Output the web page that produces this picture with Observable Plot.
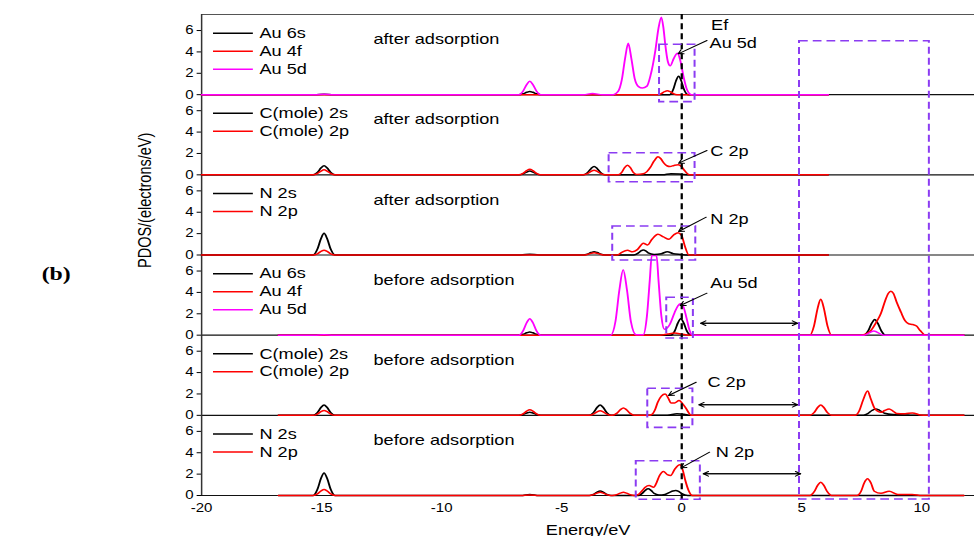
<!DOCTYPE html>
<html><head><meta charset="utf-8">
<script src="https://cdn.jsdelivr.net/npm/d3@7"></script>
<script src="https://cdn.jsdelivr.net/npm/@observablehq/plot@0.6"></script>
<style>html,body{margin:0;padding:0;background:#fff;} #chart{width:974px;height:536px;overflow:hidden;}</style>
</head><body><div id="chart"></div>
<script>
// ---------------- data ----------------
const xDomain = [-20, 12.2];
const xTicks = [-20, -15, -10, -5, 0, 5, 10];
const yTicks = [0, 2, 4, 6];
const panelSpan = 7.5;
const panelTitles = ["after adsorption", "after adsorption", "after adsorption",
                     "before adsorption", "before adsorption", "before adsorption"];
const legendLabels = [
  ["Au 6s", "Au 4f", "Au 5d"],
  ["C(mole) 2s", "C(mole) 2p"],
  ["N 2s", "N 2p"],
  ["Au 6s", "Au 4f", "Au 5d"],
  ["C(mole) 2s", "C(mole) 2p"],
  ["N 2s", "N 2p"]
];
const seriesColors = ["#000000", "#ff0000", "#ff00ff"];

// PDOS curves [energy eV, PDOS]
const p1Au6s = [[-20,0],[-15.3,0],[-14.9,0.05],[-14.5,0],[-6.78,0],[-6.61,0.08],[-6.46,0.22],[-6.33,0.3],[-6.2,0.22],[-6.05,0.08],[-5.88,0],[-0.5,0],[-0.36,0.45],[-0.24,1.29],[-0.13,1.72],[-0.02,1.29],[0.1,0.45],[0.26,0],[6.1,0]];
const p1Au4f = [[-20,0],[-1.0,0],[-0.85,0.1],[-0.72,0.28],[-0.6,0.37],[-0.48,0.28],[-0.35,0.1],[-0.2,0],[6.1,0]];
const p1Au5d = [[-20,0],[-15.3,0],[-14.9,0.05],[-14.5,0],[-6.78,0],[-6.61,0.33],[-6.46,0.94],[-6.33,1.25],[-6.2,0.94],[-6.05,0.33],[-5.88,0],[-4.1,0],[-3.72,0.1],[-3.3,0],[-2.85,0],[-2.65,0.3],[-2.5,1.35],[-2.36,3.4],[-2.23,4.8],[-2.1,3.4],[-1.96,1.5],[-1.8,0.75],[-1.64,0.62],[-1.45,0.8],[-1.3,1.8],[-1.1,4.12],[-0.97,6.2],[-0.85,7.25],[-0.76,6.2],[-0.69,4.75],[-0.58,3.1],[-0.48,2.7],[-0.33,3.4],[-0.18,3.87],[-0.05,3.1],[0.08,1.62],[0.22,0.45],[0.4,0],[6.1,0]];

const p2C2s = [[-20,0],[-15.35,0],[-15.18,0.22],[-15.03,0.63],[-14.9,0.84],[-14.77,0.63],[-14.62,0.22],[-14.45,0],[-6.78,0],[-6.61,0.09],[-6.46,0.26],[-6.33,0.35],[-6.2,0.26],[-6.05,0.09],[-5.88,0],[-4.1,0],[-3.93,0.2],[-3.78,0.58],[-3.65,0.78],[-3.52,0.58],[-3.37,0.2],[-3.2,0],[-0.8,0],[-0.45,0.1],[-0.1,0.08],[0.3,0],[6.1,0]];
const p2C2p = [[-20,0],[-15.35,0],[-15.18,0.12],[-15.03,0.35],[-14.9,0.47],[-14.77,0.35],[-14.62,0.12],[-14.45,0],[-6.78,0],[-6.61,0.14],[-6.46,0.4],[-6.33,0.53],[-6.2,0.4],[-6.05,0.14],[-5.88,0],[-4.1,0],[-3.93,0.11],[-3.78,0.33],[-3.65,0.44],[-3.52,0.33],[-3.37,0.11],[-3.2,0],[-2.64,0],[-2.5,0.23],[-2.38,0.68],[-2.26,0.9],[-2.14,0.68],[-2.02,0.23],[-1.88,0.03],[-1.6,0.1],[-1.45,0.3],[-1.31,0.69],[-1.15,1.3],[-0.99,1.69],[-0.87,1.5],[-0.76,1.15],[-0.62,0.85],[-0.49,0.78],[-0.32,0.88],[-0.15,0.94],[0.0,0.75],[0.1,0.45],[0.32,0],[6.1,0]];

const p3N2s = [[-20,0],[-15.35,0],[-15.18,0.53],[-15.03,1.52],[-14.9,2.03],[-14.77,1.52],[-14.62,0.53],[-14.45,0],[-6.7,0],[-6.33,0.08],[-5.95,0],[-4.1,0],[-3.93,0.08],[-3.78,0.23],[-3.65,0.31],[-3.52,0.23],[-3.37,0.08],[-3.2,0],[-2.0,0],[-1.8,0.2],[-1.7,0.38],[-1.6,0.47],[-1.5,0.38],[-1.4,0.2],[-1.15,0.05],[-0.85,0.12],[-0.6,0.31],[-0.35,0.12],[-0.05,0.05],[0.25,0],[6.1,0]];
const p3N2p = [[-20,0],[-15.35,0],[-15.18,0.11],[-15.03,0.33],[-14.9,0.44],[-14.77,0.33],[-14.62,0.11],[-14.45,0],[-4.1,0],[-3.93,0.05],[-3.78,0.15],[-3.65,0.2],[-3.52,0.15],[-3.37,0.05],[-3.2,0],[-2.68,0],[-2.5,0.25],[-2.26,0.44],[-2.05,0.3],[-1.85,0.5],[-1.6,1.1],[-1.42,0.94],[-1.24,1.47],[-0.99,1.94],[-0.76,1.69],[-0.53,1.47],[-0.34,1.87],[-0.15,2.09],[0.0,1.8],[0.12,0.9],[0.3,0],[6.1,0]];

const p4Au6s = [[-16.8,0],[-6.78,0],[-6.61,0.08],[-6.46,0.22],[-6.33,0.3],[-6.2,0.22],[-6.05,0.08],[-5.88,0],[-0.45,0],[-0.29,0.4],[-0.16,1.15],[-0.04,1.53],[0.08,1.15],[0.21,0.4],[0.38,0],[7.59,0],[7.76,0.38],[7.91,1.1],[8.04,1.47],[8.17,1.1],[8.32,0.38],[8.49,0],[11.75,0]];
const p4Au4f = [[-16.8,0],[-0.9,0],[-0.6,0.1],[-0.3,0.2],[0,0.1],[0.3,0],[5.34,0],[5.51,0.87],[5.66,2.51],[5.79,3.35],[5.92,2.51],[6.07,0.87],[6.24,0],[7.46,0],[7.7,0.15],[7.88,0.44],[8.1,1.2],[8.29,2.0],[8.47,3.2],[8.6,3.9],[8.71,4.12],[8.82,3.9],[8.95,3.1],[9.13,2.16],[9.3,1.35],[9.45,1.07],[9.62,1.0],[9.78,0.85],[9.93,0.44],[10.15,0],[11.75,0]];
const p4Au5d = [[-16.8,0],[-15.3,0],[-14.9,0.05],[-14.5,0],[-6.78,0],[-6.61,0.4],[-6.46,1.16],[-6.33,1.54],[-6.2,1.16],[-6.05,0.4],[-5.88,0],[-2.96,0],[-2.76,1.3],[-2.6,4.2],[-2.44,6.13],[-2.28,4.2],[-2.12,1.3],[-1.9,0.03],[-1.6,0.05],[-1.45,1.8],[-1.33,5.2],[-1.25,7.45],[-1.05,7.45],[-0.97,5.2],[-0.85,1.8],[-0.72,0.55],[-0.5,1.0],[-0.3,2.1],[-0.16,2.75],[-0.04,2.94],[0.08,2.6],[0.2,1.6],[0.32,0.5],[0.45,0],[7.6,0],[8.0,0.4],[8.4,0],[11.75,0]];

const p5C2s = [[-16.8,0],[-15.35,0],[-15.18,0.25],[-15.03,0.73],[-14.9,0.97],[-14.77,0.73],[-14.62,0.25],[-14.45,0],[-6.78,0],[-6.61,0.08],[-6.46,0.22],[-6.33,0.3],[-6.2,0.22],[-6.05,0.08],[-5.88,0],[-3.85,0],[-3.68,0.25],[-3.53,0.73],[-3.4,0.97],[-3.27,0.73],[-3.12,0.25],[-2.95,0],[-0.6,0],[-0.2,0.15],[0.1,0.1],[0.35,0],[7.57,0],[7.75,0.15],[7.92,0.45],[8.08,0.6],[8.25,0.45],[8.45,0.2],[8.8,0.07],[9.3,0.04],[9.6,0],[11.75,0]];
const p5C2p = [[-16.8,0],[-15.35,0],[-15.18,0.12],[-15.03,0.34],[-14.9,0.45],[-14.77,0.34],[-14.62,0.12],[-14.45,0],[-6.78,0],[-6.61,0.14],[-6.46,0.4],[-6.33,0.53],[-6.2,0.4],[-6.05,0.14],[-5.88,0],[-3.85,0],[-3.68,0.11],[-3.53,0.33],[-3.4,0.44],[-3.27,0.33],[-3.12,0.11],[-2.95,0],[-2.88,0],[-2.71,0.18],[-2.56,0.52],[-2.43,0.69],[-2.3,0.52],[-2.15,0.18],[-1.98,0],[-1.4,0],[-1.24,0.1],[-1.1,0.6],[-1.0,1.22],[-0.85,1.8],[-0.69,2.0],[-0.56,1.6],[-0.45,1.15],[-0.3,1.15],[-0.11,1.38],[0.03,1.1],[0.15,0.75],[0.4,0],[5.34,0],[5.51,0.25],[5.66,0.73],[5.79,0.97],[5.92,0.73],[6.07,0.25],[6.24,0],[7.22,0],[7.4,0.45],[7.55,1.4],[7.74,2.28],[7.88,1.5],[8.05,0.6],[8.3,0.28],[8.45,0.45],[8.64,0.6],[8.8,0.4],[8.95,0.18],[9.3,0.15],[9.61,0.22],[9.95,0.03],[10.2,0],[11.75,0]];

const p6N2s = [[-16.8,0],[-15.35,0],[-15.18,0.55],[-15.03,1.58],[-14.9,2.1],[-14.77,1.58],[-14.62,0.55],[-14.45,0],[-6.7,0],[-6.33,0.1],[-5.95,0],[-3.85,0],[-3.68,0.11],[-3.53,0.31],[-3.4,0.41],[-3.27,0.31],[-3.12,0.11],[-2.95,0],[-1.8,0],[-1.65,0.2],[-1.52,0.48],[-1.4,0.62],[-1.28,0.48],[-1.15,0.2],[-0.95,0.05],[-0.7,0.1],[-0.5,0.3],[-0.37,0.42],[-0.25,0.47],[-0.13,0.38],[0.0,0.18],[0.25,0],[11.75,0]];
const p6N2p = [[-16.8,0],[-15.35,0],[-15.18,0.15],[-15.03,0.42],[-14.9,0.56],[-14.77,0.42],[-14.62,0.15],[-14.45,0],[-6.7,0],[-6.33,0.05],[-5.95,0],[-3.85,0],[-3.68,0.08],[-3.53,0.22],[-3.4,0.3],[-3.27,0.22],[-3.12,0.08],[-2.95,0],[-2.88,0],[-2.71,0.08],[-2.56,0.22],[-2.43,0.3],[-2.3,0.22],[-2.15,0.08],[-1.98,0],[-1.8,0.1],[-1.65,0.45],[-1.52,0.78],[-1.36,0.94],[-1.17,0.78],[-1.05,1.2],[-0.93,1.85],[-0.76,2.25],[-0.6,1.95],[-0.46,1.87],[-0.28,2.5],[-0.08,2.87],[0.04,2.4],[0.15,1.4],[0.28,0.5],[0.45,0],[5.34,0],[5.51,0.33],[5.66,0.94],[5.79,1.25],[5.92,0.94],[6.07,0.33],[6.24,0],[7.3,0],[7.47,0.4],[7.6,1.17],[7.74,1.56],[7.88,1.17],[8.02,0.4],[8.3,0.2],[8.64,0.4],[9.0,0.1],[9.6,0.1],[10.0,0],[11.75,0]];

const curves = [
  [p1Au6s, p1Au4f, p1Au5d],
  [p2C2s, p2C2p],
  [p3N2s, p3N2p],
  [p4Au6s, p4Au4f, p4Au5d],
  [p5C2s, p5C2p],
  [p6N2s, p6N2p]
];

// dashed highlight boxes: [x1, x2, bottom panel, bottom value, top panel, top value]
const boxes = [
  [-0.92, 0.56, 0, -0.7, 0, 4.67],
  [-3.02, 0.56, 1, -0.69, 1, 2.02],
  [-2.87, 0.59, 2, -0.51, 2, 2.67],
  [-0.62, 0.49, 3, -0.31, 3, 3.5],
  [-1.41, 0.47, 4, -1.17, 4, 2.48],
  [-1.89, 0.78, 5, -0.4, 5, 3.21],
  [4.91, 10.32, 5, -0.37, 0, 5.0]
];

// callouts (energy, stacked PDOS)
const calloutText = ["Au 5d", "C 2p", "N 2p", "Au 5d", "C 2p", "N 2p"];
const calloutX = [1.16, 1.19, 1.19, 1.19, 1.07, 1.42];
const calloutY = [42.32, 32.18, 25.82, 19.81, 10.54, 4.05];
const pointerFrom = [[1.05,42.57],[1.05,32.28],[1.02,26.04],[1.05,18.93],[0.60,10.60],[1.16,4.05]];
const pointerTo   = [[-0.15,41.32],[-0.13,31.09],[-0.13,24.70],[-0.06,17.78],[-0.55,9.36],[-0.03,2.59]];
const gapArrows = [[0.79, 4.82, 16.12], [0.72, 4.82, 8.49], [0.9, 4.95, 2.03]];
const fermiLabel = {text: "Ef", x: 1.58, y: 43.97};

// ---------------- layout ----------------
const S = 1.25;              // horizontal stretch of the original figure
const W = 974 / S;
const nP = curves.length;
const offsets = d3.range(nP).map(i => (nP - 1 - i) * panelSpan);
const yMax = nP * panelSpan;
const yTickPos = offsets.flatMap(o => yTicks.map(t => o + t));
const legendRows = [5.75, 4.07, 2.38];
const FONT = "'Liberation Sans', Arial, Helvetica, sans-serif";
const purple = "#8b3cf2";

const marks = [];
marks.push(Plot.ruleY(offsets, {x1: () => xDomain[0], x2: () => xDomain[1], stroke: "#111", strokeWidth: 1.2}));
marks.push(Plot.ruleY([yMax], {x1: () => xDomain[0], x2: () => xDomain[1], stroke: "#555", strokeWidth: 1.2}));
marks.push(Plot.ruleX([xDomain[0]], {y1: () => 0, y2: () => yMax, stroke: "#333", strokeWidth: 1.2}));

for (let i = nP - 1; i >= 0; i--) {
  curves[i].forEach((pts, k) => {
    marks.push(Plot.line(pts, {x: d => d[0], y: d => d[1] + offsets[i], stroke: seriesColors[k], strokeWidth: 1.5, curve: "monotone-x"}));
  });
}

marks.push(Plot.ruleX([0], {y1: () => -0.4, y2: () => yMax, stroke: "#000", strokeWidth: 1.8, strokeDasharray: "6,4"}));

const boxData = boxes.map(([x1, x2, pb, vb, pt, vt]) => ({x1, x2, y1: offsets[pb] + vb, y2: offsets[pt] + vt}));
marks.push(Plot.rect(boxData, {x1: "x1", x2: "x2", y1: "y1", y2: "y2", fill: "none", stroke: purple, strokeWidth: 1.6, strokeDasharray: "7,4"}));

const legendData = legendLabels.flatMap((labels, i) => labels.map((t, k) => ({t, k, y: offsets[i] + legendRows[k]})));
marks.push(Plot.ruleY(legendData, {y: "y", x1: () => -19.5, x2: () => -17.84, stroke: d => seriesColors[d.k], strokeWidth: 1.5}));
marks.push(Plot.text(legendData, {x: () => -17.59, y: "y", text: "t", textAnchor: "start", fontSize: 14.5, fill: "#000"}));

const titleData = panelTitles.map((t, i) => ({t, y: offsets[i] + 5.15}));
marks.push(Plot.text(titleData, {x: () => -12.84, y: "y", text: "t", textAnchor: "start", fontSize: 14.5, fill: "#000"}));

const calloutData = calloutText.map((t, i) => ({t, x: calloutX[i], y: calloutY[i]}));
marks.push(Plot.text(calloutData, {x: "x", y: "y", text: "t", textAnchor: "start", fontSize: 14.5, fill: "#000"}));
marks.push(Plot.text([fermiLabel], {x: "x", y: "y", text: "text", textAnchor: "middle", fontSize: 14.5, fill: "#000"}));
const ptrData = pointerFrom.map((f, i) => ({x1: f[0], y1: f[1], x2: pointerTo[i][0], y2: pointerTo[i][1]}));
marks.push(Plot.arrow(ptrData, {x1: "x1", y1: "y1", x2: "x2", y2: "y2", stroke: "#000", strokeWidth: 1, headLength: 7}));
const gapData = gapArrows.map(([a, b, y]) => ({a, b, y}));
marks.push(Plot.arrow(gapData, {x1: "a", y1: "y", x2: "b", y2: "y", stroke: "#000", strokeWidth: 1, headLength: 7}));
marks.push(Plot.arrow(gapData, {x1: "b", y1: "y", x2: "a", y2: "y", stroke: "#000", strokeWidth: 1, headLength: 7}));

marks.push(Plot.text(["Energy/eV"], {frameAnchor: "bottom", dy: 39, text: d => d, fontSize: 14.5, fill: "#000"}));
marks.push(Plot.text(["PDOS/(electrons/eV)"], {frameAnchor: "left", rotate: -90, dx: -44.8, dy: 13, text: d => d, fontSize: 14.5, fill: "#000"}));
marks.push(Plot.text(["(b)"], {frameAnchor: "left", dx: -128, dy: 18.5, text: d => d, fontSize: 19, fontWeight: "bold", fontFamily: "'Liberation Serif', 'Times New Roman', serif", fill: "#000"}));

const chart = Plot.plot({
  width: W,
  height: 536,
  marginLeft: 201 / S,
  marginRight: 0,
  marginTop: 14,
  marginBottom: 41,
  style: {fontFamily: FONT, fontSize: "12px", color: "#000", background: "#fff"},
  x: {domain: xDomain, ticks: xTicks, tickFormat: d => String(d), tickSize: 0, tickPadding: 8, label: null},
  y: {domain: [0, yMax], ticks: yTickPos, tickFormat: d => String(Math.round((d % panelSpan) * 10) / 10), tickSize: 3.5, tickPadding: 3, label: null},
  marks
});
chart.setAttribute("width", 974);
chart.setAttribute("height", 536);
chart.setAttribute("preserveAspectRatio", "none");
chart.style.width = "974px";
chart.style.height = "536px";
chart.style.maxWidth = "none";
document.getElementById("chart").append(chart);
</script>
</body></html>
